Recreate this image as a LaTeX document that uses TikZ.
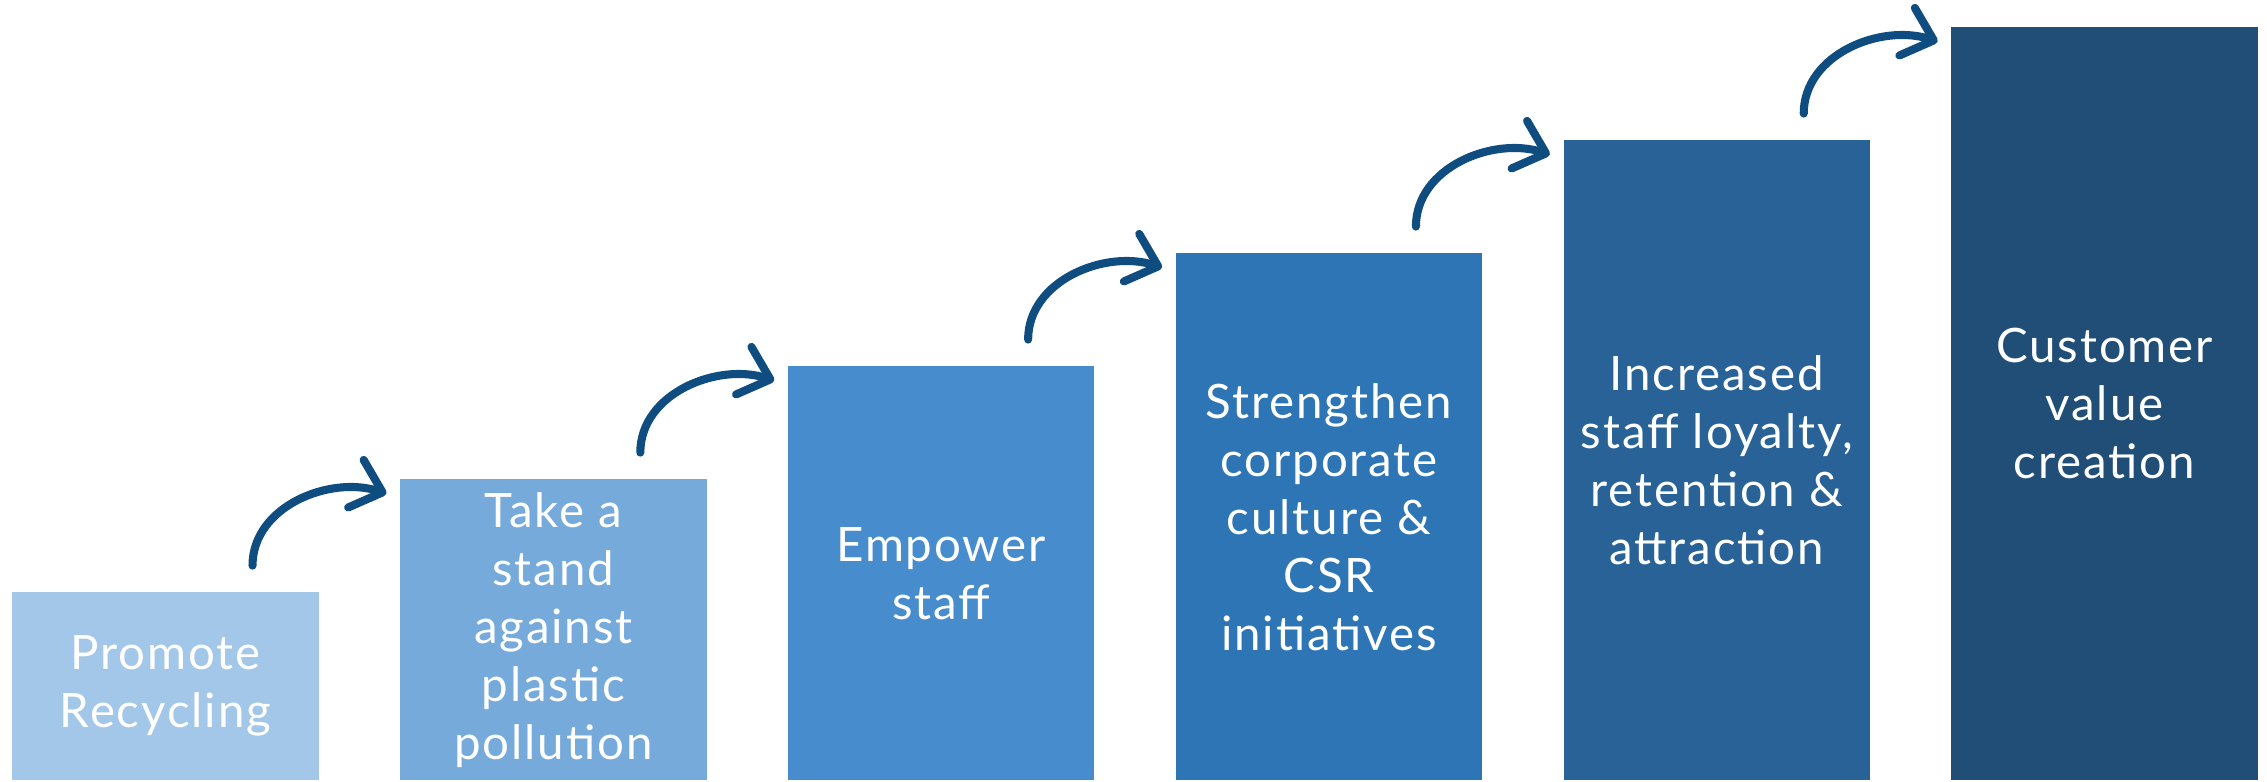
\documentclass[tikz,border=0pt]{standalone}
\usepackage{fontspec}
\setmainfont[LetterSpace=4]{Lato}
\usepackage{tikz}
\usetikzlibrary{arrows.meta,calc}

\definecolor{stepA}{HTML}{A3C7E8}
\definecolor{stepB}{HTML}{75AADB}
\definecolor{stepC}{HTML}{478CCC}
\definecolor{stepD}{HTML}{2E75B6}
\definecolor{stepE}{HTML}{286296}
\definecolor{stepF}{HTML}{214E76}
\definecolor{arrowblue}{HTML}{0F4D81}

\begin{document}
\begin{tikzpicture}[
    bar/.style={anchor=south west,inner sep=0pt,minimum width=3.065cm,
      text=white,align=center,font=\fontsize{13.5}{16.5}\selectfont},
    flow/.style={draw=arrowblue,line width=2.3pt,line cap=round,
      -{Straight Barb[length=2.8mm,width=5mm,round]}}]
  \useasboundingbox (0,0) rectangle (22.67,7.81);
  \node[bar,fill=stepA,minimum height=1.88cm] (rec) at (0.116,0) {Promote\\Recycling};
  \node[bar,fill=stepB,minimum height=3.01cm] (stand) at (3.994,0) {Take a\\stand\\against\\plastic\\pollution};
  \node[bar,fill=stepC,minimum height=4.14cm] (empower) at (7.872,0) {Empower\\staff};
  \node[bar,fill=stepD,minimum height=5.27cm] (culture) at (11.750,0) {Strengthen\\corporate\\culture \&\\CSR\\initiatives};
  \node[bar,fill=stepE,minimum height=6.40cm] (loyalty) at (15.628,0) {Increased\\staff loyalty,\\retention \&\\attraction};
  \node[bar,fill=stepF,minimum height=7.53cm] (value) at (19.506,0) {Customer\\value\\creation};
  % curved arrows from one step up to the next
  \foreach \a/\b in {rec/stand,stand/empower,empower/culture,culture/loyalty,loyalty/value} {
    \coordinate (from) at ($(\a.north east)+(-0.67,0.26)$);
    \coordinate (to) at ($(\b.north west)+(-0.13,-0.15)$);
    \draw[flow] (from) to[out=90,in=162] (to);
  }
\end{tikzpicture}
\end{document}
